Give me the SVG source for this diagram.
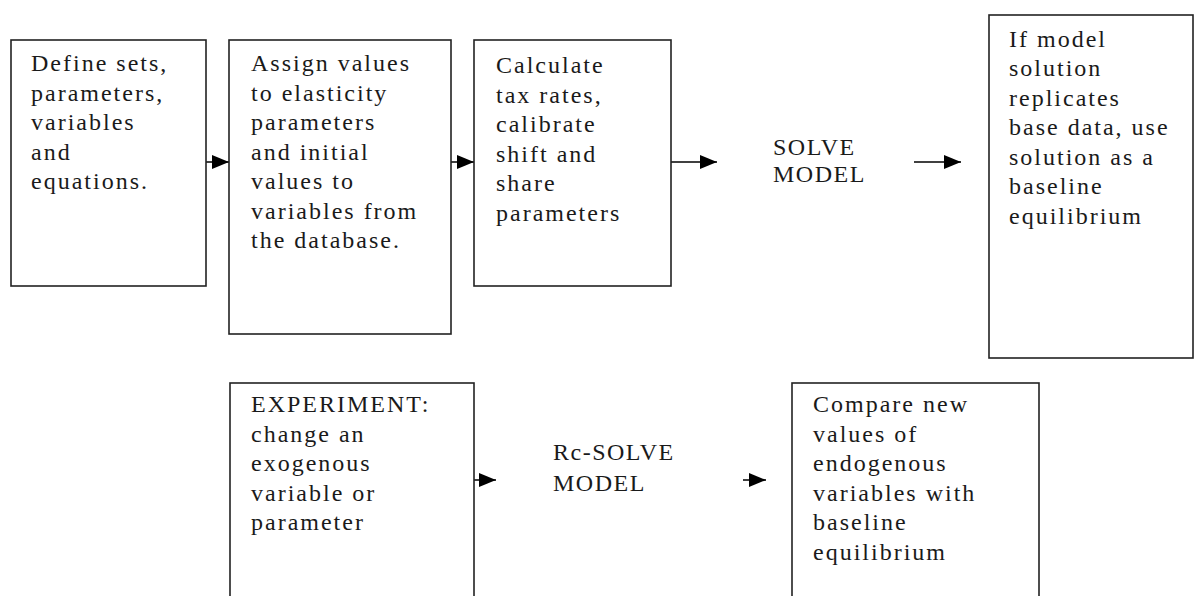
<svg xmlns="http://www.w3.org/2000/svg" width="1195" height="596" viewBox="0 0 1195 596">
<style>
  .box{fill:#fff;stroke:#222;stroke-width:1.6}
  .t{font-family:"Liberation Serif","Times New Roman",serif;font-size:24px;fill:#1a1a1a;letter-spacing:2px}
  .lbl{font-family:"Liberation Serif","Times New Roman",serif;font-size:24px;fill:#1a1a1a;letter-spacing:1.5px}
  .c{stroke:#000;stroke-width:1.5;fill:none;marker-end:url(#ah)}
</style>
<defs>
  <marker id="ah" markerUnits="userSpaceOnUse" markerWidth="17" markerHeight="14" refX="17" refY="7" orient="auto">
    <path d="M0,0 L17,7 L0,14 z" fill="#000"/>
  </marker>
</defs>
<rect width="1195" height="596" fill="#fff"/>

<g id="connectors">
  <line class="c" x1="206" y1="162" x2="229" y2="162"/>
  <line class="c" x1="451" y1="162" x2="474" y2="162"/>
  <line class="c" x1="671" y1="162" x2="717" y2="162"/>
  <line class="c" x1="914" y1="162" x2="961" y2="162"/>
  <line class="c" x1="474" y1="480" x2="496" y2="480"/>
  <line class="c" x1="743" y1="480" x2="766" y2="480"/>
</g>

<g id="n1">
  <rect class="box" x="11" y="40" width="195" height="246"/>
  <text class="t" x="31" y="71">Define sets,</text>
  <text class="t" x="31" y="100.5">parameters,</text>
  <text class="t" x="31" y="130">variables</text>
  <text class="t" x="31" y="159.5">and</text>
  <text class="t" x="31" y="189">equations.</text>
</g>

<g id="n2">
  <rect class="box" x="229" y="40" width="222" height="294"/>
  <text class="t" x="251" y="71">Assign values</text>
  <text class="t" x="251" y="100.5">to elasticity</text>
  <text class="t" x="251" y="130">parameters</text>
  <text class="t" x="251" y="159.5">and initial</text>
  <text class="t" x="251" y="189">values to</text>
  <text class="t" x="251" y="218.5">variables from</text>
  <text class="t" x="251" y="248">the database.</text>
</g>

<g id="n3">
  <rect class="box" x="474" y="40" width="197" height="246"/>
  <text class="t" x="496" y="73">Calculate</text>
  <text class="t" x="496" y="102.5">tax rates,</text>
  <text class="t" x="496" y="132">calibrate</text>
  <text class="t" x="496" y="161.5">shift and</text>
  <text class="t" x="496" y="191">share</text>
  <text class="t" x="496" y="220.5">parameters</text>
</g>

<g id="n4">
  <text class="lbl" x="773" y="155">SOLVE</text>
  <text class="lbl" x="773" y="182">MODEL</text>
</g>

<g id="n5">
  <rect class="box" x="989" y="15" width="204" height="343"/>
  <text class="t" x="1009" y="46.5">If model</text>
  <text class="t" x="1009" y="76">solution</text>
  <text class="t" x="1009" y="105.5">replicates</text>
  <text class="t" x="1009" y="135">base data, use</text>
  <text class="t" x="1009" y="164.5">solution as a</text>
  <text class="t" x="1009" y="194">baseline</text>
  <text class="t" x="1009" y="223.5">equilibrium</text>
</g>

<g id="n6">
  <rect class="box" x="230" y="383" width="244" height="230"/>
  <text class="t" x="251" y="412">EXPERIMENT:</text>
  <text class="t" x="251" y="441.5">change an</text>
  <text class="t" x="251" y="471">exogenous</text>
  <text class="t" x="251" y="500.5">variable or</text>
  <text class="t" x="251" y="530">parameter</text>
</g>

<g id="n7">
  <text class="lbl" x="553" y="460">Rc-SOLVE</text>
  <text class="lbl" x="553" y="491">MODEL</text>
</g>

<g id="n8">
  <rect class="box" x="792" y="383" width="247" height="230"/>
  <text class="t" x="813" y="412">Compare new</text>
  <text class="t" x="813" y="441.5">values of</text>
  <text class="t" x="813" y="471">endogenous</text>
  <text class="t" x="813" y="500.5">variables with</text>
  <text class="t" x="813" y="530">baseline</text>
  <text class="t" x="813" y="559.5">equilibrium</text>
</g>
</svg>
